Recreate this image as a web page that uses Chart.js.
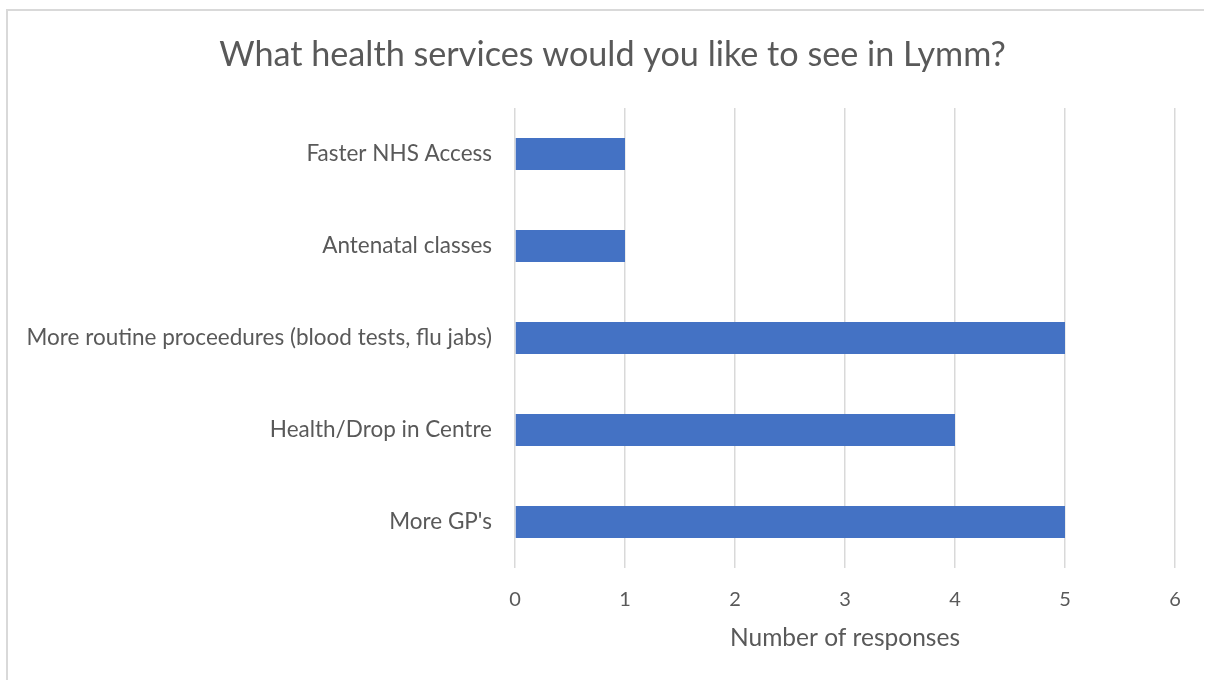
<html lang="en">
<head>
  <meta charset="UTF-8">
  <title>Health services</title>
  <script src="https://cdn.jsdelivr.net/npm/chart.js"></script>
  <style>
    body { margin: 0; background: white; }
    .wrap { position: relative; width: 1205px; height: 680px; }
    .frame { position: absolute; left: 6px; top: 9px; right: 1px; bottom: -10px; border-top: 2px solid #d9d9d9; border-left: 2px solid #d9d9d9; }
    canvas { position: absolute; left: 0; top: 0; }
  </style>
</head>
<body>
  <div class="wrap">
    <div class="frame"></div>
    <canvas id="chart" width="1205" height="680"></canvas>
  </div>

  <script>
    const categories = ["Faster NHS Access", "Antenatal classes", "More routine proceedures (blood tests, flu jabs)", "Health/Drop in Centre", "More GP's"];
    const responses = [1, 1, 5, 4, 5];
    const xTicks = [0, 1, 2, 3, 4, 5, 6];

    const grey = "#595959";
    const font = "Lato, 'Open Sans', sans-serif";

    // the original frame is cut off on the right, so its title sits right of canvas centre
    const shiftTitle = {
      id: 'shiftTitle',
      afterLayout(chart) {
        const t = chart.titleBlock;
        if (t) { t.left = 20; t.right = chart.width; t.width = t.right - t.left; }
      }
    };

    new Chart(document.getElementById("chart"), {
      type: 'bar',
      data: {
        labels: categories,
        datasets: [{
          label: 'Number of responses',
          data: responses,
          backgroundColor: '#4472c4',
          barPercentage: 0.348,
          categoryPercentage: 1
        }]
      },
      options: {
        indexAxis: 'y',
        responsive: false,
        animation: false,
        layout: { padding: { left: 0, right: 30, top: 0, bottom: 0 } },
        plugins: {
          legend: { display: false },
          tooltip: { enabled: false },
          title: {
            display: true,
            text: 'What health services would you like to see in Lymm?',
            color: grey,
            font: { family: font, size: 34.2, weight: 'normal', lineHeight: 1.2 },
            padding: { top: 34.5, bottom: 32.5 }
          }
        },
        scales: {
          x: {
            min: xTicks[0],
            max: xTicks[xTicks.length - 1],
            afterBuildTicks: (scale) => { scale.ticks = xTicks.map(v => ({ value: v })); },
            afterFit: (scale) => { scale.height = 112; },
            border: { display: false },
            grid: { color: '#d9d9d9', lineWidth: 1.5, drawTicks: false },
            ticks: { color: grey, font: { family: font, size: 20 }, padding: 20 },
            title: {
              display: true,
              text: 'Number of responses',
              color: grey,
              font: { family: font, size: 24.5 },
              padding: { top: 0, bottom: 27.3 }
            }
          },
          y: {
            afterFit: (scale) => { scale.width = 515; },
            border: { display: false },
            grid: { display: false, drawTicks: false },
            ticks: { color: grey, font: { family: font, size: 22.5 }, padding: 23 }
          }
        }
      },
      plugins: [shiftTitle]
    });
  </script>
</body>
</html>
